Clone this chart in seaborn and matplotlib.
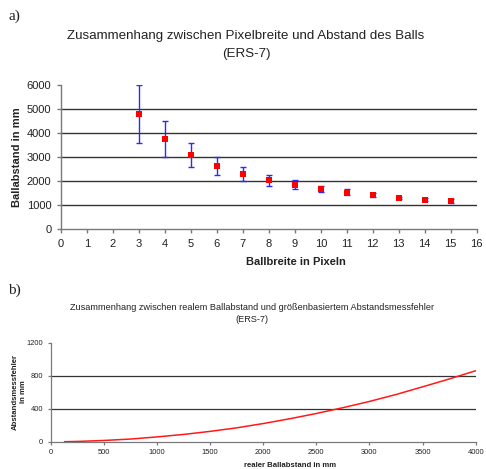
import matplotlib
matplotlib.use("Agg")
import matplotlib.pyplot as plt
import seaborn as sns
import numpy as np
import pandas as pd

# ---- data: panel a ----
pixel_width = [3, 4, 5, 6, 7, 8, 9, 10, 11, 12, 13, 14, 15]
distance_mm = [4800, 3750, 3100, 2630, 2300, 2030, 1830, 1650, 1500, 1400, 1300, 1220, 1150]
dist_low = [3600, 3000, 2600, 2250, 2000, 1800, 1650, 1550, 1400, 1350, 1250, 1180, 1100]
dist_high = [6000, 4500, 3600, 3000, 2600, 2250, 2030, 1780, 1650, 1520, 1350, 1290, 1230]

# ---- data: panel b ----
real_distance = [130, 250, 500, 750, 1000, 1250, 1500, 1750, 2000, 2250, 2500, 2750, 3000, 3250, 3500, 3750, 4000]
measure_error = [0, 3, 15, 32, 58, 88, 125, 168, 220, 278, 342, 412, 488, 572, 665, 760, 860]

top_xticks = list(range(0, 17))
top_yticks = [0, 1000, 2000, 3000, 4000, 5000, 6000]
bot_xticks = [0, 500, 1000, 1500, 2000, 2500, 3000, 3500, 4000]
bot_yticks = [0, 400, 800, 1200]

sns.set_style("white")
plt.rcParams['font.family'] = ['Liberation Sans', 'DejaVu Sans']

W, H = 486, 469
fig = plt.figure(figsize=(W / 100, H / 100), dpi=100)

def fx(px):
    return px / W

def fy(py):
    return 1 - py / H

spine_col = '#7a7a7a'
grid_col = '#333333'
text_col = '#222222'

# ---- panel a ----
ax1 = fig.add_axes([fx(61), fy(229), fx(476.7) - fx(61), fy(85) - fy(229)])
df_a = pd.DataFrame({"x": pixel_width, "y": distance_mm})
yerr = [np.array(distance_mm) - np.array(dist_low), np.array(dist_high) - np.array(distance_mm)]
ax1.errorbar(pixel_width, distance_mm, yerr=yerr, fmt='none', ecolor='#2a2aff',
             elinewidth=1.0, capsize=2.2, capthick=1.0, zorder=3)
sns.scatterplot(data=df_a, x="x", y="y", ax=ax1, marker='s', color='#ff0000',
                s=18, edgecolor='#ff0000', linewidth=0, zorder=4)
ax1.set_xlim(0, 16)
ax1.set_ylim(0, 6000)
ax1.set_xticks(top_xticks)
ax1.set_yticks(top_yticks)
for v in [1000, 2000, 3000, 4000, 5000]:
    ax1.axhline(v, color=grid_col, lw=1.0, zorder=1)
for s in ['top', 'right']:
    ax1.spines[s].set_visible(False)
for s in ['left', 'bottom']:
    ax1.spines[s].set_color(spine_col)
    ax1.spines[s].set_linewidth(1.0)
ax1.tick_params(axis='both', direction='out', length=3, width=1.0, color=spine_col,
                labelsize=8, labelcolor=text_col, pad=4, bottom=True, left=True)
ax1.set_xlabel("")
ax1.set_ylabel("")

# ---- panel b ----
ax2 = fig.add_axes([fx(50.7), fy(441.7), fx(475.7) - fx(50.7), fy(342.7) - fy(441.7)])
df_b = pd.DataFrame({"x": real_distance, "y": measure_error})
sns.lineplot(data=df_b, x="x", y="y", ax=ax2, color='#ff1a1a', lw=1.1, zorder=3)
ax2.set_xlim(0, 4000)
ax2.set_ylim(0, 1200)
ax2.set_xticks(bot_xticks)
ax2.set_yticks(bot_yticks)
for v in [400, 800]:
    ax2.axhline(v, color=grid_col, lw=0.9, zorder=1)
for s in ['top', 'right']:
    ax2.spines[s].set_visible(False)
for s in ['left', 'bottom']:
    ax2.spines[s].set_color(spine_col)
    ax2.spines[s].set_linewidth(0.9)
ax2.tick_params(axis='both', direction='out', length=2.5, width=0.9, color=spine_col,
                labelsize=5.4, labelcolor=text_col, pad=3, bottom=True, left=True)
ax2.set_xlabel("")
ax2.set_ylabel("")

# ---- texts ----
fig.text(fx(8), fy(16), "a)", family=['Liberation Serif', 'DejaVu Serif'], fontsize=11,
         color=text_col, ha='left', va='center')
fig.text(fx(8), fy(290), "b)", family=['Liberation Serif', 'DejaVu Serif'], fontsize=11,
         color=text_col, ha='left', va='center')

fig.text(fx(246), fy(36), "Zusammenhang zwischen Pixelbreite und Abstand des Balls",
         fontsize=9.6, color=text_col, ha='center', va='center')
fig.text(fx(246), fy(54), "(ERS-7)", fontsize=9.6, color=text_col, ha='center', va='center')
fig.text(fx(17.5), fy(157), "Ballabstand in mm", fontsize=8, fontweight='bold', rotation=90,
         color=text_col, ha='center', va='center')
fig.text(fx(296), fy(262), "Ballbreite in Pixeln", fontsize=8, fontweight='bold',
         color=text_col, ha='center', va='center')

fig.text(fx(252), fy(308), "Zusammenhang zwischen realem Ballabstand und größenbasiertem Abstandsmessfehler",
         fontsize=6.6, color=text_col, ha='center', va='center')
fig.text(fx(252), fy(320), "(ERS-7)", fontsize=6.6, color=text_col, ha='center', va='center')
fig.text(fx(15), fy(392), "Abstandsmessfehler", fontsize=5.6, fontweight='bold', rotation=90,
         color=text_col, ha='center', va='center')
fig.text(fx(23.5), fy(392), "in mm", fontsize=5.6, fontweight='bold', rotation=90,
         color=text_col, ha='center', va='center')
fig.text(fx(290), fy(465), "realer Ballabstand in mm", fontsize=5.6, fontweight='bold',
         color=text_col, ha='center', va='center')

fig.savefig("out.png", dpi=100)
